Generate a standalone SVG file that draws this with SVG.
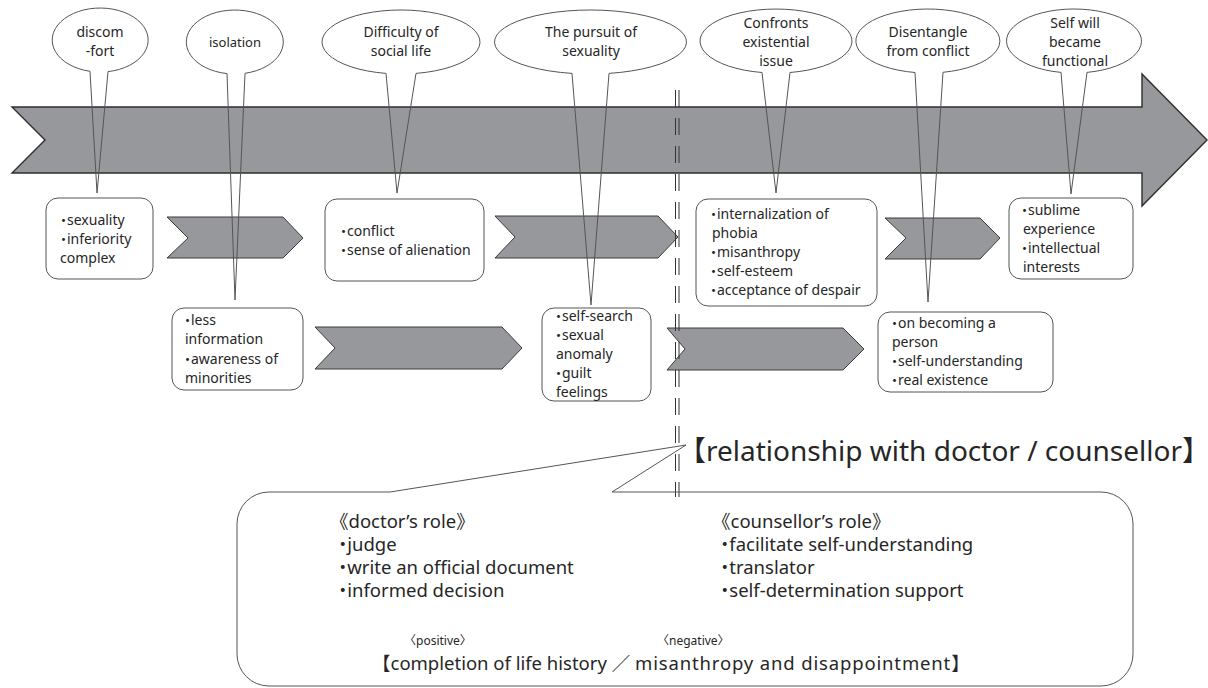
<svg xmlns="http://www.w3.org/2000/svg" width="1208" height="688" viewBox="0 0 1208 688">
<style>
text{font-family:"Noto Sans","Noto Sans CJK JP",sans-serif;fill:#262626}
.bt{font-size:14px;text-anchor:middle}
.tx{font-size:14px}
.lg{font-size:18.5px}
.sm{font-size:12px}
.hd{font-size:28px}
.b{font-feature-settings:"halt"}
.arrow{fill:#97989c;stroke:#2e2e2e;stroke-width:1.4}
.chev{fill:#97989c;stroke:#3c3c3c;stroke-width:1}
.box{fill:#fff;stroke:#555;stroke-width:1}
.bub{fill:none;stroke:#555;stroke-width:1}
.dash{stroke:#333;stroke-width:1;stroke-dasharray:17 11}
</style>
<rect width="1208" height="688" fill="#fff"/>
<g id="timeline">
<polygon class="arrow" points="12,107 1142,107 1142,74 1207,140 1142,206 1142,173 12,173 45,140"/>
</g>
<g id="connectors">
<polygon class="chev" points="167,217 283,217 303,238 283,258 167,258 188,238"/>
<polygon class="chev" points="495,216 658,216 678,237 658,258 495,258 515,237"/>
<polygon class="chev" points="885,218 980,218 1000,238 980,259 885,259 906,238"/>
<polygon class="chev" points="315,327 502,327 522,348 502,369 315,369 335,348"/>
<polygon class="chev" points="667,328 843,328 864,349 843,370 667,370 685,349"/>
</g>
<g id="boxA">
<rect class="box" x="46" y="198" width="107" height="81" rx="12"/>
<text class="tx" x="60" y="225"><tspan class="b">・</tspan>sexuality</text>
<text class="tx" x="60" y="244"><tspan class="b">・</tspan>inferiority</text>
<text class="tx" x="60" y="263">complex</text>
</g>
<g id="boxB">
<rect class="box" x="325" y="199" width="159" height="82" rx="12"/>
<text class="tx" x="340" y="236"><tspan class="b">・</tspan>conflict</text>
<text class="tx" x="340" y="255"><tspan class="b">・</tspan>sense of alienation</text>
</g>
<g id="boxC">
<rect class="box" x="696" y="199" width="181" height="107" rx="12"/>
<text class="tx" x="710" y="219"><tspan class="b">・</tspan>internalization of</text>
<text class="tx" x="712" y="238">phobia</text>
<text class="tx" x="710" y="257"><tspan class="b">・</tspan>misanthropy</text>
<text class="tx" x="710" y="276"><tspan class="b">・</tspan>self-esteem</text>
<text class="tx" x="710" y="295"><tspan class="b">・</tspan>acceptance of despair</text>
</g>
<g id="boxD">
<rect class="box" x="1009" y="198" width="124" height="81" rx="12"/>
<text class="tx" x="1021" y="215"><tspan class="b">・</tspan>sublime</text>
<text class="tx" x="1023" y="234">experience</text>
<text class="tx" x="1021" y="253"><tspan class="b">・</tspan>intellectual</text>
<text class="tx" x="1023" y="272">interests</text>
</g>
<g id="boxE">
<rect class="box" x="172" y="308" width="131" height="82" rx="12"/>
<text class="tx" x="184" y="325"><tspan class="b">・</tspan>less</text>
<text class="tx" x="185" y="344">information</text>
<text class="tx" x="184" y="364"><tspan class="b">・</tspan>awareness of</text>
<text class="tx" x="185" y="383">minorities</text>
</g>
<g id="boxF">
<rect class="box" x="542" y="308" width="109" height="93" rx="12"/>
<text class="tx" x="555" y="321"><tspan class="b">・</tspan>self-search</text>
<text class="tx" x="555" y="340"><tspan class="b">・</tspan>sexual</text>
<text class="tx" x="556" y="359">anomaly</text>
<text class="tx" x="555" y="378"><tspan class="b">・</tspan>guilt</text>
<text class="tx" x="556" y="397">feelings</text>
</g>
<g id="boxG">
<rect class="box" x="878" y="312" width="175" height="80" rx="12"/>
<text class="tx" x="891" y="328"><tspan class="b">・</tspan>on becoming a</text>
<text class="tx" x="892" y="347">person</text>
<text class="tx" x="891" y="366"><tspan class="b">・</tspan>self-understanding</text>
<text class="tx" x="891" y="385"><tspan class="b">・</tspan>real existence</text>
</g>
<g id="bubble1">
<path class="bub" d="M90,71.3 A48,32 0 1 1 108,71.6 L97,193 Z"/>
<text class="bt" x="100" y="37">discom</text>
<text class="bt" x="100" y="56">-fort</text>
</g>
<g id="bubble2">
<path class="bub" d="M227,73.6 A48.5,32 0 1 1 245,73.3 L235,300 Z"/>
<text class="bt" x="235" y="47" style="font-size:13px">isolation</text>
</g>
<g id="bubble3">
<path class="bub" d="M386,73.4 A79,32 0 1 1 416,73.4 L397,193 Z"/>
<text class="bt" x="401" y="37">Difficulty of</text>
<text class="bt" x="401" y="56">social life</text>
</g>
<g id="bubble4">
<path class="bub" d="M572,73.4 A96,32 0 1 1 609,73.4 L591,305 Z"/>
<text class="bt" x="591" y="37">The pursuit of</text>
<text class="bt" x="591" y="56">sexuality</text>
</g>
<g id="bubble5">
<path class="bub" d="M762,72.5 A76,32 0 1 1 790,72.5 L776,193 Z"/>
<text class="bt" x="776" y="28">Confronts</text>
<text class="bt" x="776" y="47">existential</text>
<text class="bt" x="776" y="66">issue</text>
</g>
<g id="bubble6">
<path class="bub" d="M915,72.5 A72,32 0 1 1 943,72.3 L928,302 Z"/>
<text class="bt" x="928" y="37">Disentangle</text>
<text class="bt" x="928" y="56">from conflict</text>
</g>
<g id="bubble7">
<path class="bub" d="M1061,72.4 A67.5,32 0 1 1 1087,72.4 L1071,194 Z"/>
<text class="bt" x="1075" y="28">Self will</text>
<text class="bt" x="1075" y="47">became</text>
<text class="bt" x="1075" y="66">functional</text>
</g>
<g id="divider">
<line class="dash" x1="675.5" y1="90" x2="675.5" y2="497"/>
<line class="dash" x1="679" y1="90" x2="679" y2="497"/>
</g>
<g id="relationship">
<path class="bub" d="M269,492 L390,492 L686,445 L612,492 L1101,492 A32,32 0 0 1 1133,524 L1133,654 A32,32 0 0 1 1101,686 L269,686 A32,32 0 0 1 237,654 L237,524 A32,32 0 0 1 269,492 Z"/>
<text class="hd" x="678" y="461">【relationship with doctor / counsellor】</text>
<text class="lg" x="330" y="528">《doctor’s role》</text>
<text class="lg" x="338" y="551"><tspan class="b">・</tspan>judge</text>
<text class="lg" x="338" y="574"><tspan class="b">・</tspan>write an official document</text>
<text class="lg" x="338" y="597"><tspan class="b">・</tspan>informed decision</text>
<text class="lg" x="712" y="528">《counsellor’s role》</text>
<text class="lg" x="720" y="551"><tspan class="b">・</tspan>facilitate self-understanding</text>
<text class="lg" x="720" y="574"><tspan class="b">・</tspan>translator</text>
<text class="lg" x="720" y="597"><tspan class="b">・</tspan>self-determination support</text>
<text class="sm" x="404" y="645">〈positive〉</text>
<text class="sm" x="657" y="645">〈negative〉</text>
<text class="lg" x="372" y="670">【completion of life history ／ <tspan style="letter-spacing:0.85px">misanthropy and disappointment】</tspan></text>
</g>
</svg>
